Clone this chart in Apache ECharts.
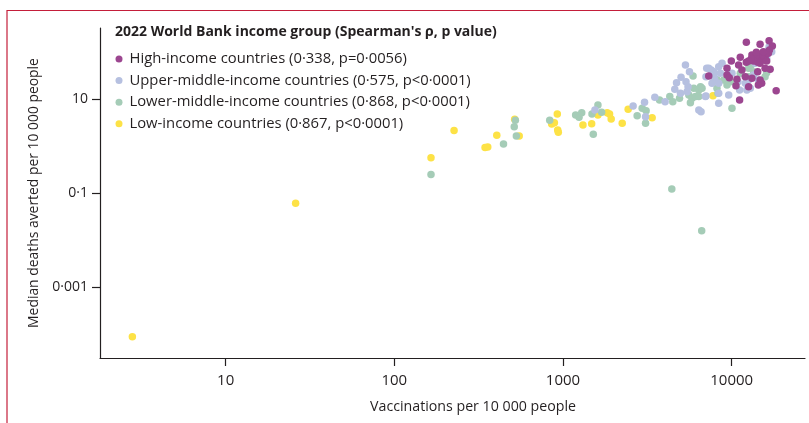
<!DOCTYPE html>
<html>
<head>
<meta charset="utf-8">
<script src="https://cdn.jsdelivr.net/npm/echarts@6/dist/echarts.min.js"></script>
<style>
html,body{margin:0;padding:0;background:#fff;}
#chart{width:809px;height:423px;}
</style>
</head>
<body>
<div id="chart"></div>
<script>
// ---- Data ----
const seriesNames = [
  'High-income countries (0·338, p=0·0056)',
  'Upper-middle-income countries (0·575, p<0·0001)',
  'Lower-middle-income countries (0·868, p<0·0001)',
  'Low-income countries (0·867, p<0·0001)'
];
const xTickValues = [10, 100, 1000, 10000];
const yTickValues = [10, 0.1, 0.001];

// [vaccinations per 10 000, median deaths averted per 10 000]
const highIncome = [
  [12210,163],[14730,148],[16660,177],[17420,136],[16740,112],[11240,78.3],[9950,65.3],
  [10990,53.7],[12210,61.3],[9380,45.7],[11500,42],[15770,45.7],[16900,43.5],[14260,38.6],
  [9380,32.9],[9680,28.8],[10740,26.7],[12040,30.3],[13180,28],[14730,25.8],[15060,21.9],
  [14390,20.1],[12600,18.5],[10600,19.5],[11140,9.66],[18350,15.2],[7310,31.3],
  [13180,87.7],[13800,78.3],[14390,87.7],[14730,74.5],[15060,68.5],[15770,78.3],
  [14260,61.3],[13480,65.3],[14730,58.3],[15400,87],[16120,65.3],[13060,72],
  [16490,95],[12600,65.3],[14000,100],[15400,103]
];
const upperMiddleIncome = [
  [1546,5.92],[2604,7.2],[3043,8.63],[3086,4.26],[3502,11.0],[4030,8.9],[4600,16.3],
  [4970,13.4],[4710,22.5],[5010,29.4],[5320,53.7],[5620,38.6],[5360,23.7],[5510,18.5],
  [5440,14.5],[6580,5.44],[7040,11.75],[7110,45.7],[7560,42],[7820,32.9],[8375,13.4],
  [7310,45.7],[7040,30.3],[7820,38.6],[8375,49.4],[8765,58.3],[7925,26.7],[7645,21.9],
  [8375,21.9],[8570,35.7],[10040,35.7],[10890,23.7],[11140,15.8],[12300,15.8],
  [12890,17.1],[12600,25.8],[13480,32.9],[13800,58.3],[16120,74.5],[16490,112],
  [16660,131.5],[17270,103],[14390,25.8],[12040,21.9],[9600,12.3],[6985,11.4],
  [8375,8.22],[6383,5.92]
];
const lowerMiddleIncome = [
  [165,0.249],[444,1.12],[514,2.61],[522,3.57],[529,1.66],[834,3.57],[1188,4.63],
  [1245,4.14],[1291,5.19],[1485,4.86],[1512,1.80],[1611,7.57],[1694,5.28],[2752,4.48],
  [2946,6.44],[3110,5.71],[3086,3.08],[3734,9.66],[4295,11.4],[4475,8.9],[4905,10.5],
  [5900,31.3],[5960,17.1],[5570,12.3],[5820,10.5],[6100,11.4],[5690,8.47],[6383,15.8],
  [6530,18.5],[4415,0.123],[6640,0.0158],[6670,17.1],[8180,17.1],[8970,25.8],
  [9815,23.7],[9380,20.1],[12600,45.7],[13060,53.7],[13480,38.6],[16120,36.8],
  [15770,30.3],[12600,30.3],[11240,35.7],[8295,13.4],[10040,6.44],[6383,11.4],[8180,26]
];
const lowIncome = [
  [2.8,0.000088],[26,0.061],[165,0.57],[226,2.15],[345,0.94],[358,0.96],[405,1.71],
  [517,3.75],[550,1.66],[889,3.18],[857,2.98],[925,4.86],[930,2.22],[938,1.99],
  [1313,2.84],[1479,3.0],[1611,4.6],[1828,5.19],[1888,4.86],[1930,3.81],[2244,3.08],
  [2433,6.12],[3376,4.06],[7745,11.9]
];

const colors = {
  high: '#9c4690',
  upper: '#b6c0e0',
  lower: '#a5ccb7',
  low: '#fde246'
};

const FONT = '"Open Sans", Lato, "Noto Sans", sans-serif';
const TXT = '#231f20';

function fmtNum(v) {
  return String(v).replace('.', '·');
}

const chart = echarts.init(document.getElementById('chart'), null, {renderer: 'canvas'});

function mkSeries(name, data, color) {
  return {
    name: name,
    type: 'scatter',
    data: data,
    symbol: 'circle',
    symbolSize: 7.5,
    itemStyle: {color: color, opacity: 1},
    emphasis: {disabled: true},
    silent: true
  };
}

const option = {
  animation: false,
  backgroundColor: '#ffffff',
  textStyle: {fontFamily: FONT, color: TXT},
  title: {
    text: "2022 World Bank income group (Spearman's ρ, p value)",
    left: 115,
    top: 25,
    padding: 0,
    textStyle: {fontFamily: FONT, fontSize: 14, fontWeight: 'bold', color: TXT}
  },
  legend: {
    orient: 'vertical',
    left: 115.5,
    top: 51.5,
    padding: 0,
    itemWidth: 7,
    itemHeight: 7,
    itemGap: 6.6,
    icon: 'circle',
    selectedMode: false,
    data: seriesNames,
    textStyle: {fontFamily: FONT, fontSize: 14.8, color: TXT, padding: [0, 0, 0, 2]}
  },
  grid: {left: 100, right: 4, top: 28, bottom: 65, containLabel: false},
  xAxis: {
    type: 'log',
    logBase: 10,
    min: 1.8,
    max: 27200,
    name: 'Vaccinations per 10 000 people',
    nameLocation: 'middle',
    nameGap: 42,
    nameTextStyle: {fontFamily: FONT, fontSize: 14.2, color: TXT, padding: [0, 0, 0, 41]},
    axisLine: {show: true, lineStyle: {color: TXT, width: 1.2}},
    axisTick: {show: true, length: 8, lineStyle: {color: TXT, width: 1.2}, customValues: xTickValues},
    axisLabel: {
      fontFamily: FONT, fontSize: 15, color: TXT, margin: 15,
      customValues: xTickValues,
      formatter: v => String(Math.round(v))
    },
    splitLine: {show: false},
    minorTick: {show: false}
  },
  yAxis: {
    type: 'log',
    logBase: 10,
    min: 3.1e-5,
    max: 329,
    name: 'Median deaths averted per 10 000 people',
    nameLocation: 'middle',
    nameGap: 52,
    nameRotate: 90,
    nameTextStyle: {fontFamily: FONT, fontSize: 13.9, color: TXT},
    axisLine: {show: true, lineStyle: {color: TXT, width: 1.2}},
    axisTick: {show: true, length: 8, lineStyle: {color: TXT, width: 1.2}, customValues: yTickValues},
    axisLabel: {
      fontFamily: FONT, fontSize: 14, color: TXT, margin: 12,
      customValues: yTickValues,
      formatter: v => fmtNum(v)
    },
    splitLine: {show: false},
    minorTick: {show: false}
  },
  graphic: [{
    type: 'polyline',
    silent: true,
    shape: {points: [[7, 423], [7, 10.5], [809, 10.5]]},
    style: {stroke: '#c41e3a', lineWidth: 1.2, fill: null}
  }],
  series: [
    mkSeries(seriesNames[3], lowIncome, colors.low),
    mkSeries(seriesNames[2], lowerMiddleIncome, colors.lower),
    mkSeries(seriesNames[1], upperMiddleIncome, colors.upper),
    mkSeries(seriesNames[0], highIncome, colors.high)
  ]
};
chart.setOption(option);
</script>
</body>
</html>
